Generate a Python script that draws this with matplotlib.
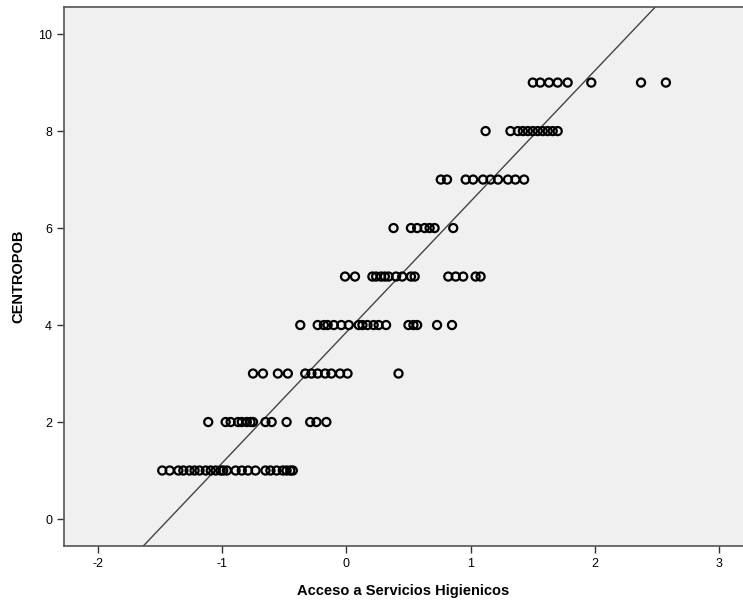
import numpy as np
import matplotlib
matplotlib.use("Agg")
import matplotlib.pyplot as plt

plt.rcParams['font.family'] = ['Liberation Sans', 'DejaVu Sans']
plt.rcParams['axes.unicode_minus'] = False

# Acceso a Servicios Higienicos (x) for each CENTROPOB level (y)
x_c1 = [-1.48, -1.42, -1.35, -1.31, -1.26, -1.22, -1.18, -1.13, -1.09, -1.05,
        -1.01, -0.99, -0.96, -0.89, -0.84, -0.79, -0.73, -0.65, -0.61, -0.56,
        -0.51, -0.48, -0.45, -0.43]
x_c2 = [-1.11, -0.97, -0.93, -0.87, -0.84, -0.80, -0.77, -0.75, -0.65, -0.60,
        -0.48, -0.29, -0.24, -0.16]
x_c3 = [-0.75, -0.67, -0.55, -0.47, -0.33, -0.28, -0.23, -0.17, -0.12, -0.05,
        0.01, 0.42]
x_c4 = [-0.37, -0.23, -0.18, -0.15, -0.10, -0.04, 0.02, 0.10, 0.13, 0.17,
        0.22, 0.26, 0.32, 0.50, 0.54, 0.57, 0.73, 0.85]
x_c5 = [-0.01, 0.07, 0.21, 0.24, 0.28, 0.31, 0.34, 0.40, 0.45, 0.52, 0.55,
        0.82, 0.88, 0.94, 1.04, 1.08]
x_c6 = [0.38, 0.52, 0.57, 0.63, 0.67, 0.71, 0.86]
x_c7 = [0.76, 0.81, 0.96, 1.02, 1.10, 1.16, 1.22, 1.30, 1.36, 1.43]
x_c8 = [1.12, 1.32, 1.38, 1.42, 1.46, 1.50, 1.54, 1.58, 1.62, 1.66, 1.70]
x_c9 = [1.50, 1.56, 1.63, 1.70, 1.78, 1.97, 2.37, 2.57]

groups = [x_c1, x_c2, x_c3, x_c4, x_c5, x_c6, x_c7, x_c8, x_c9]
levels = [1, 2, 3, 4, 5, 6, 7, 8, 9]

# linear fit line
fit_intercept = 3.85
fit_slope = 2.70

x_all = np.concatenate([np.array(g) for g in groups])
y_all = np.concatenate([np.full(len(g), lv) for g, lv in zip(groups, levels)])

fig = plt.figure(figsize=(7.43, 6.03), dpi=100)
ax = fig.add_axes([0.0861, 0.0945, 0.9139, 0.894])
ax.set_facecolor('#f0f0f0')

xlim = (-2.27, 3.19)
ylim = (-0.557, 10.56)

xs = np.array(xlim)
ax.plot(xs, fit_intercept + fit_slope * xs, color='#444444', lw=1.0, zorder=2)

ax.scatter(x_all, y_all, s=34, facecolors='none', edgecolors='black',
           linewidths=1.6, zorder=3)

ax.set_xlim(*xlim)
ax.set_ylim(*ylim)
ax.set_xticks([-2, -1, 0, 1, 2, 3])
ax.set_yticks([0, 2, 4, 6, 8, 10])
ax.tick_params(axis='both', labelsize=9, color='#333333', length=5, width=1)

for s in ['left', 'bottom', 'top']:
    ax.spines[s].set_color('#555555')
    ax.spines[s].set_linewidth(1.2)
ax.spines['right'].set_visible(False)

ax.set_xlabel('Acceso a Servicios Higienicos', fontsize=10.5, fontweight='bold',
              labelpad=10)
ax.set_ylabel('CENTROPOB', fontsize=10.5, fontweight='bold', labelpad=9)

fig.savefig('out.png', dpi=100, facecolor='white')
